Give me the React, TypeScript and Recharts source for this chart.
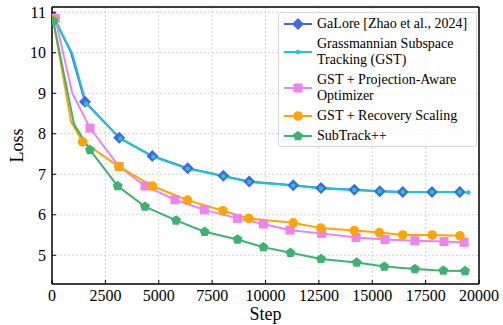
import React from "react";
import { LineChart, Line, XAxis, YAxis, CartesianGrid, ReferenceLine } from "recharts";

const galoreSteps = [100, 890, 1545, 3150, 4700, 6355, 8025, 9240, 11300, 12600, 14160, 15350, 16430, 17800, 19100];
const galoreLoss = [10.86, 10.01, 8.79, 7.9, 7.45, 7.15, 6.96, 6.82, 6.73, 6.66, 6.62, 6.58, 6.56, 6.56, 6.56];

const gstSteps = [100, 950, 1600, 3200, 4750, 6355, 8025, 9240, 11300, 12600, 14160, 15350, 16430, 17800, 19100, 19500];
const gstLoss = [10.84, 9.98, 8.74, 7.88, 7.43, 7.14, 6.95, 6.81, 6.72, 6.65, 6.61, 6.58, 6.56, 6.56, 6.56, 6.55];

const projSteps = [150, 950, 1780, 3140, 4355, 5760, 7135, 8680, 9900, 11150, 12630, 14240, 15600, 17000, 18360, 19300];
const projLoss = [10.85, 9.0, 8.14, 7.19, 6.71, 6.37, 6.12, 5.91, 5.77, 5.62, 5.54, 5.44, 5.39, 5.36, 5.34, 5.32];

const recovSteps = [60, 890, 1435, 3140, 4700, 6350, 8010, 9220, 11300, 12590, 14160, 15330, 16430, 17810, 19110];
const recovLoss = [10.8, 8.3, 7.8, 7.19, 6.71, 6.36, 6.1, 5.91, 5.8, 5.67, 5.61, 5.56, 5.5, 5.5, 5.48];

const subSteps = [60, 1030, 1780, 3075, 4355, 5810, 7150, 8690, 9900, 11170, 12600, 14270, 15565, 17000, 18330, 19345];
const subLoss = [10.78, 8.24, 7.6, 6.71, 6.2, 5.86, 5.58, 5.39, 5.2, 5.06, 4.91, 4.82, 4.72, 4.66, 4.62, 4.61];

const xTicks = [0, 2500, 5000, 7500, 10000, 12500, 15000, 17500, 20000];
const yTicks = [5, 6, 7, 8, 9, 10, 11];
const yDomain = [4.29, 11.13];

const FONT = "'Liberation Serif', 'DejaVu Serif', serif";

const zip = (steps: number[], loss: number[]) => steps.map((s, i) => ({ step: s, loss: loss[i] }));

type Shape = "diamond" | "dot" | "square" | "circle" | "pentagon";

function marker(shape: Shape, cx: number, cy: number, color: string) {
  if (shape === "diamond") {
    const r = 6;
    return <polygon points={`${cx},${cy - r} ${cx + r},${cy} ${cx},${cy + r} ${cx - r},${cy}`} fill={color} />;
  }
  if (shape === "square") return <rect x={cx - 4.5} y={cy - 4.5} width={9} height={9} fill={color} />;
  if (shape === "circle") return <circle cx={cx} cy={cy} r={4.8} fill={color} />;
  if (shape === "dot") return <circle cx={cx} cy={cy} r={2.2} fill={color} />;
  const r = 5.2;
  const pts = [0, 1, 2, 3, 4]
    .map((k) => {
      const a = (-90 + 72 * k) * (Math.PI / 180);
      return `${cx + r * Math.cos(a)},${cy + r * Math.sin(a)}`;
    })
    .join(" ");
  return <polygon points={pts} fill={color} />;
}

// second logged point sits on the curve without a marker
const makeDot = (shape: Shape, color: string) => (props: any) => {
  const { cx, cy, index } = props;
  if (index === 1 || cx == null || cy == null) return <g key={`d${index}`} />;
  return <g key={`d${index}`}>{marker(shape, cx, cy, color)}</g>;
};

const series = [
  { name: ["GaLore [Zhao et al., 2024]"], data: zip(galoreSteps, galoreLoss), color: "#4169e1", shape: "diamond" as Shape },
  { name: ["Grassmannian Subspace", "Tracking (GST)"], data: zip(gstSteps, gstLoss), color: "#17c9d3", shape: "dot" as Shape },
  { name: ["GST + Projection-Aware", "Optimizer"], data: zip(projSteps, projLoss), color: "#ee82ee", shape: "square" as Shape },
  { name: ["GST + Recovery Scaling"], data: zip(recovSteps, recovLoss), color: "#ffa500", shape: "circle" as Shape },
  { name: ["SubTrack++"], data: zip(subSteps, subLoss), color: "#3cb371", shape: "pentagon" as Shape },
];

const XTick = (props: any) => {
  const { x, y, payload } = props;
  const axisY = y - 5;
  return (
    <g>
      <line x1={x} x2={x} y1={axisY} y2={axisY - 4} stroke="#000" strokeWidth={1} />
      <text x={x} y={axisY + 17} textAnchor="middle" fontFamily={FONT} fontSize={16} fill="#000">
        {payload.value}
      </text>
    </g>
  );
};

const YTick = (props: any) => {
  const { x, y, payload } = props;
  const axisX = x + 6;
  return (
    <g>
      <line x1={axisX} x2={axisX + 4} y1={y} y2={y} stroke="#000" strokeWidth={1} />
      <text x={x} y={y + 5.5} textAnchor="end" fontFamily={FONT} fontSize={16} fill="#000">
        {payload.value}
      </text>
    </g>
  );
};

export default function App() {
  return (
    <div style={{ position: "absolute", left: 0, top: 0, width: 503, height: 325, background: "#fff" }}>
      <LineChart width={503} height={325} margin={{ top: 7, right: 24, bottom: 0, left: 0 }}>
        <CartesianGrid stroke="#c8c8c8" strokeDasharray="2 2" strokeWidth={0.8} />
        <XAxis
          type="number"
          dataKey="step"
          domain={[0, 20000]}
          ticks={xTicks}
          allowDataOverflow
          height={41}
          tickSize={0}
          tickMargin={5}
          tick={<XTick />}
          axisLine={{ stroke: "#000", strokeWidth: 1.5 }}
          tickLine={false}
          label={({ viewBox }: any) => (
            <text x={viewBox.x + viewBox.width / 2} y={viewBox.y + 36} textAnchor="middle" fontFamily={FONT} fontSize={18} fill="#000">
              Step
            </text>
          )}
        />
        <YAxis
          type="number"
          dataKey="loss"
          domain={yDomain}
          ticks={yTicks}
          allowDataOverflow
          width={52}
          tickSize={0}
          tickMargin={6}
          tick={<YTick />}
          axisLine={{ stroke: "#000", strokeWidth: 1.5 }}
          tickLine={false}
          label={({ viewBox }: any) => {
            const cx = 23;
            const cy = viewBox.y + viewBox.height / 2;
            return (
              <text x={cx} y={cy} transform={`rotate(-90, ${cx}, ${cy})`} textAnchor="middle" fontFamily={FONT} fontSize={18} fill="#000">
                Loss
              </text>
            );
          }}
        />
        <ReferenceLine y={yDomain[1]} stroke="#000" strokeWidth={1.5} />
        <ReferenceLine x={20000} stroke="#000" strokeWidth={1.5} />
        {series.map((s) => (
          <Line
            key={s.name.join(" ")}
            data={s.data}
            dataKey="loss"
            type="linear"
            stroke={s.color}
            strokeWidth={2}
            dot={makeDot(s.shape, s.color)}
            activeDot={false}
            isAnimationActive={false}
          />
        ))}
      </LineChart>
      <div
        style={{
          position: "absolute",
          left: 278,
          top: 12,
          width: 199,
          height: 135,
          boxSizing: "border-box",
          border: "1px solid #d6d6d6",
          borderRadius: 3,
          background: "rgba(255,255,255,0.8)",
          paddingTop: 3,
          fontFamily: FONT,
          fontSize: 14,
          lineHeight: "16px",
          color: "#000",
        }}
      >
        {series.map((s) => (
          <div key={s.name.join(" ")} style={{ position: "relative", height: s.name.length * 16, marginBottom: 4 }}>
            <svg width={34} height={16} style={{ position: "absolute", left: 2, top: (s.name.length - 1) * 8 }}>
              <line x1={3} x2={31} y1={8} y2={8} stroke={s.color} strokeWidth={2} />
              {marker(s.shape, 17, 8, s.color)}
            </svg>
            <div style={{ position: "absolute", left: 38, top: 0, whiteSpace: "nowrap" }}>
              {s.name.map((l) => (
                <div key={l}>{l}</div>
              ))}
            </div>
          </div>
        ))}
      </div>
    </div>
  );
}
